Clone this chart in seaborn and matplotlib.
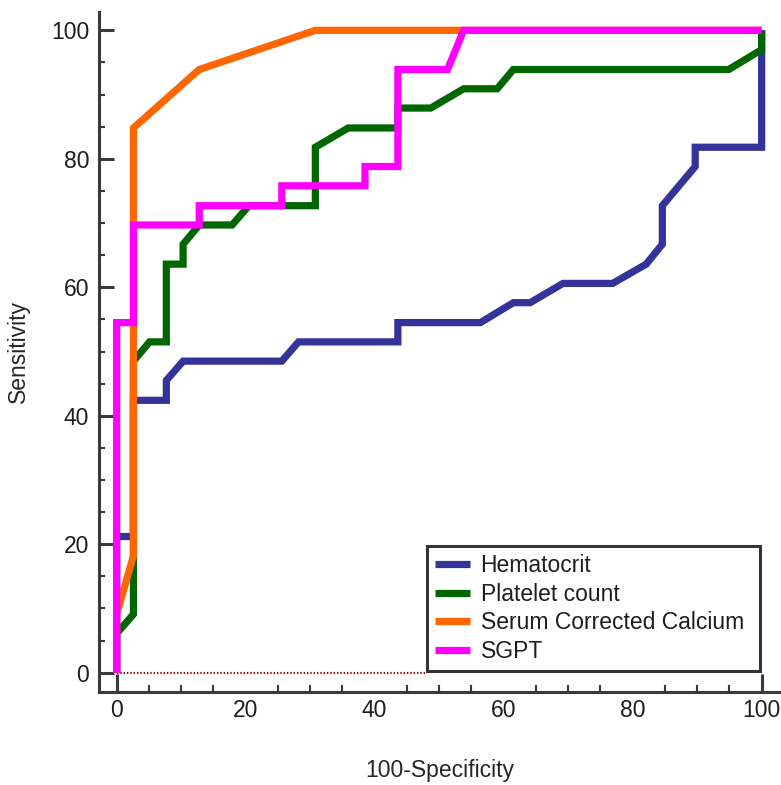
import numpy as np
import pandas as pd
import matplotlib
matplotlib.use("Agg")
import matplotlib.pyplot as plt
import seaborn as sns

# ---- data (100-Specificity, Sensitivity) ----
series_names = ["Hematocrit", "Platelet count", "Serum Corrected Calcium", "SGPT"]

hema_x = [0, 0, 2.6, 2.6, 7.7, 7.7, 10.3, 25.6, 28.2, 43.6, 43.6, 56.4, 61.5, 64.1,
          69.2, 76.9, 82.1, 84.6, 84.6, 89.7, 89.7, 100, 100]
hema_y = [0, 21.2, 21.2, 42.4, 42.4, 45.5, 48.5, 48.5, 51.5, 51.5, 54.5, 54.5, 57.6, 57.6,
          60.6, 60.6, 63.6, 66.7, 72.7, 78.8, 81.8, 81.8, 100]

plt_x = [0, 0, 2.6, 2.6, 5.1, 7.7, 7.7, 10.3, 10.3, 12.8, 17.9, 20.5, 30.8, 30.8, 35.9,
         43.6, 43.6, 48.7, 53.8, 59.0, 61.5, 94.9, 100, 100]
plt_y = [0, 6.1, 9.1, 48.5, 51.5, 51.5, 63.6, 63.6, 66.7, 69.7, 69.7, 72.7, 72.7, 81.8, 84.8,
         84.8, 87.9, 87.9, 90.9, 90.9, 93.9, 93.9, 97.0, 100]

calc_x = [0, 0, 2.6, 2.6, 12.8, 30.8, 100]
calc_y = [0, 9.1, 18.2, 84.8, 93.9, 100, 100]

sgpt_x = [0, 0, 2.6, 2.6, 12.8, 12.8, 25.6, 25.6, 38.5, 38.5, 43.6, 43.6, 51.3, 53.8, 100]
sgpt_y = [0, 54.5, 54.5, 69.7, 69.7, 72.7, 72.7, 75.8, 75.8, 78.8, 78.8, 93.9, 93.9, 100, 100]

ref_x = [0, 48]
ref_y = [0, 0]

x_ticks = [0, 20, 40, 60, 80, 100]
y_ticks = [0, 20, 40, 60, 80, 100]

colors = ["#333399", "#006600", "#FF6600", "#FF00FF"]

frames = []
for name, xs, ys in zip(series_names, [hema_x, plt_x, calc_x, sgpt_x],
                        [hema_y, plt_y, calc_y, sgpt_y]):
    frames.append(pd.DataFrame({"x": xs, "y": ys, "series": name,
                                "order": np.arange(len(xs))}))
df = pd.concat(frames, ignore_index=True)

FS = 16.5

sns.set_style("ticks")
plt.rcParams["font.family"] = ["Liberation Sans", "DejaVu Sans"]
plt.rcParams["text.color"] = "#1e1e1e"
plt.rcParams["xtick.color"] = "#3a3a3a"
plt.rcParams["ytick.color"] = "#3a3a3a"
plt.rcParams["xtick.labelcolor"] = "#1e1e1e"
plt.rcParams["ytick.labelcolor"] = "#1e1e1e"

fig = plt.figure(figsize=(7.81, 7.85), dpi=100)
ax = fig.add_axes([99 / 781, 1 - 691.7 / 785, 682 / 781, 680 / 785])

ax.plot(ref_x, ref_y, linestyle=(0, (0.6, 0.9)), color="#990000", linewidth=1.6, zorder=1)

palette = dict(zip(series_names, colors))
sns.lineplot(data=df, x="x", y="y", hue="series", hue_order=series_names,
             palette=palette, sort=False, estimator=None, units="series",
             linewidth=5.2, ax=ax, legend=True, zorder=3)
for ln in ax.get_lines():
    ln.set_solid_joinstyle("miter")
    ln.set_solid_capstyle("butt")

ax.set_xlim(-2.74, 103.0)
ax.set_ylim(-2.96, 102.9)

for s in ["top", "right"]:
    ax.spines[s].set_visible(False)
for s in ["left", "bottom"]:
    ax.spines[s].set_color("#3a3a3a")
    ax.spines[s].set_linewidth(2.2)

ax.set_xticks(x_ticks)
ax.set_yticks(y_ticks)
ax.set_xticks(np.arange(0, 101, 5), minor=True)
ax.set_yticks(np.arange(0, 101, 5), minor=True)
ax.set_xticklabels([str(t) for t in x_ticks])
ax.set_yticklabels([str(t) for t in y_ticks])

ax.tick_params(axis="x", which="major", direction="in", length=13, width=2.2,
               pad=5, labelsize=FS)
ax.tick_params(axis="x", which="minor", direction="in", length=5, width=1.5)
ax.tick_params(axis="y", which="major", direction="in", length=11, width=2.2,
               pad=7, labelsize=FS)
ax.tick_params(axis="y", which="minor", direction="in", length=4.5, width=1.5)
for t in ax.xaxis.get_major_ticks()[1:5]:
    t.tick1line.set_visible(False)

ax.set_xlabel("100-Specificity", fontsize=FS)
ax.set_ylabel("Sensitivity", fontsize=FS)
ax.xaxis.set_label_coords(0.5, -0.099)
ax.yaxis.set_label_coords(-0.101, 0.5)

handles, labels = ax.get_legend_handles_labels()
leg = ax.legend(handles, labels, loc="lower left",
                bbox_to_anchor=(0.4805, 0.0309, 0.4885, 0.179), mode="expand",
                borderaxespad=0, frameon=True, fancybox=False, framealpha=1,
                edgecolor="#333333", fontsize=FS, handlelength=1.55,
                handletextpad=0.45, borderpad=0.35, labelspacing=0.24)
leg.get_frame().set_linewidth(2.2)
leg.set_zorder(10)
for ln in leg.get_lines():
    ln.set_linewidth(5.2)
    ln.set_solid_capstyle("butt")

fig.savefig("out.png", dpi=100)
